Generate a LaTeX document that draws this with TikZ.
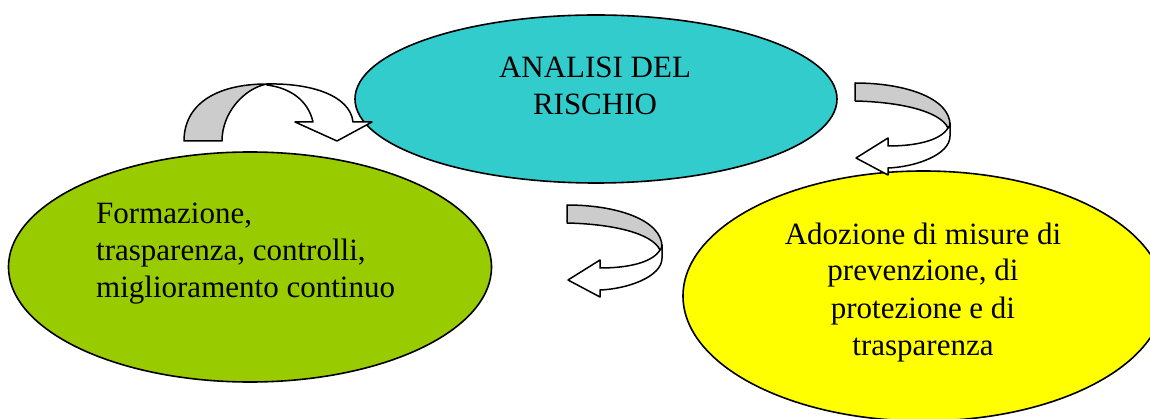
\documentclass[tikz,border=0pt]{standalone}
\usepackage{fontspec}
\setmainfont{Liberation Serif}
\usepackage{xcolor}
\usepackage{tikz}
\usetikzlibrary{shapes.geometric}
\definecolor{riskcyan}{HTML}{33CCCC}
\definecolor{trainlime}{HTML}{99CC00}
\definecolor{measyellow}{HTML}{FFFF00}
\definecolor{bandgray}{HTML}{CCCCCC}
\tikzset{
  blob/.style={ellipse,draw,line width=1.6pt,inner sep=0pt},
  blobtext/.style={inner sep=0pt,font=\fontsize{31}{37}\selectfont},
  band/.style={draw,line width=1.5pt,line join=round}
}
\begin{document}
\begin{tikzpicture}[x=1pt,y=-1pt]
    \useasboundingbox (0,0) rectangle (1150,419);
    \node[blob,fill=riskcyan,minimum width=482pt,minimum height=168pt] (analisi) at (596,99) {};
    \node[blob,fill=trainlime,minimum width=483pt,minimum height=230pt] (formazione) at (250,267) {};
    \node[blob,fill=measyellow,minimum width=481pt,minimum height=250pt] (adozione) at (923.5,296) {};
    \node[blobtext,align=center,anchor=base] (analisitxt) at (595,115) {ANALISI DEL\\RISCHIO};
    \node[blobtext,align=left,anchor=base west] (formazionetxt) at (96,298) {Formazione,\\trasparenza, controlli,\\miglioramento continuo};
    \node[blobtext,align=center,anchor=base] (adozionetxt) at (923,355) {Adozione di misure di\\prevenzione, di\\protezione e di\\trasparenza};
    \draw[band,fill=white] (267,84) .. controls (310,83) and (350,95) .. (353,122) -- (372,122) -- (337,141) -- (295,122) -- (313,122) .. controls (308,100) and (290,88) .. (267,85) -- cycle;
    \draw[band,fill=bandgray] (184,141) .. controls (184,105) and (215,84) .. (267,84) .. controls (245,88) and (222,112) .. (222,141) -- cycle;
    \foreach \sx/\sy in {855/83, 567/205} {
      \begin{scope}[shift={(\sx,\sy)}]
        \draw[band,fill=white] (95,40) -- (95,53) .. controls (95,72) and (60,84) .. (33,85) -- (33,92) -- (1,75) -- (33,55) -- (33,63) .. controls (60,63) and (85,58) .. (93,45) -- cycle;
        \draw[band,fill=bandgray] (0,0) .. controls (50,0) and (95,15) .. (95,42) -- (93,45) .. controls (85,28) and (45,19) .. (0,18) -- cycle;
      \end{scope}
    }
\end{tikzpicture}
\end{document}
